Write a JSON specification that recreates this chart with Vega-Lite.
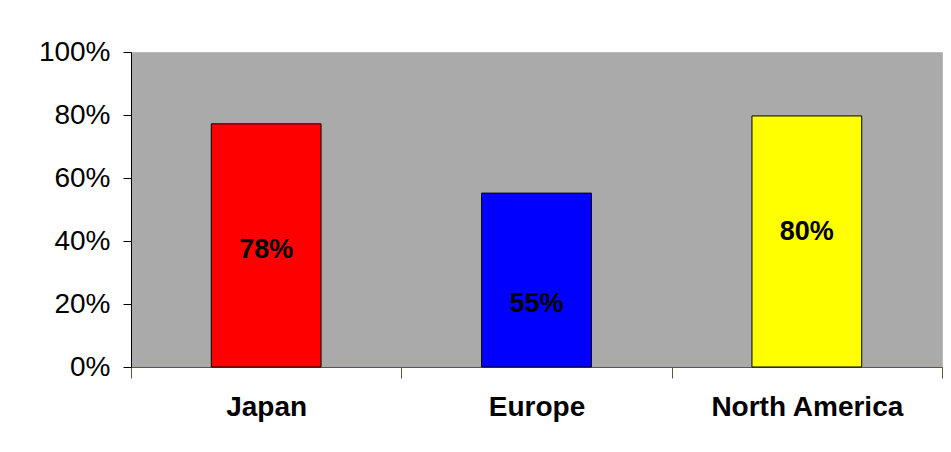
{
  "$schema": "https://vega.github.io/schema/vega-lite/v6.json",
  "autosize": {"type": "none"},
  "padding": {"left": 131, "top": 52, "right": 9, "bottom": 85},
  "width": 811,
  "height": 315,
  "background": "white",
  "config": {
    "font": "Liberation Sans",
    "view": {"fill": "#aaaaaa", "stroke": "#bbbbbb", "strokeWidth": 1}
  },
  "data": {
    "values": [
      {"region": "Japan", "share": 0.772, "label": "78%", "labelY": 0.371, "color": "#ff0000"},
      {"region": "Europe", "share": 0.552, "label": "55%", "labelY": 0.2, "color": "#0000ff"},
      {"region": "North America", "share": 0.797, "label": "80%", "labelY": 0.43, "color": "#ffff00"}
    ]
  },
  "encoding": {
    "x": {
      "field": "region",
      "type": "nominal",
      "sort": null,
      "scale": {"paddingInner": 0, "paddingOuter": 0},
      "axis": {
        "title": null,
        "labelAngle": 0,
        "labelFont": "Liberation Sans",
        "labelFontSize": 28,
        "labelFontWeight": "bold",
        "labelColor": "black",
        "labelPadding": 15,
        "labelLimit": 0,
        "labelOverlap": false,
        "tickBand": "extent",
        "tickSize": 11,
        "tickColor": "#5a5a3a",
        "tickWidth": 1,
        "domainColor": "#5a5a3a",
        "domainWidth": 1
      }
    }
  },
  "layer": [
    {
      "mark": {"type": "bar", "width": {"band": 0.406}, "stroke": "black", "strokeWidth": 1},
      "encoding": {
        "y": {
          "field": "share",
          "type": "quantitative",
          "scale": {"domain": [0, 1], "nice": false},
          "axis": {
            "title": null,
            "values": [0, 0.2, 0.4, 0.6, 0.8, 1],
            "format": ".0%",
            "grid": false,
            "labelFont": "Liberation Sans",
            "labelFontSize": 28,
            "labelColor": "black",
            "labelPadding": 13,
            "tickSize": 8,
            "tickColor": "black",
            "domainColor": "black"
          }
        },
        "color": {"field": "color", "type": "nominal", "scale": null, "legend": null}
      }
    },
    {
      "mark": {"type": "text", "font": "Liberation Sans", "fontSize": 27, "fontWeight": "bold", "color": "black", "align": "center", "baseline": "middle", "letterSpacing": -1.2},
      "encoding": {
        "y": {"field": "labelY", "type": "quantitative"},
        "text": {"field": "label"}
      }
    }
  ]
}
